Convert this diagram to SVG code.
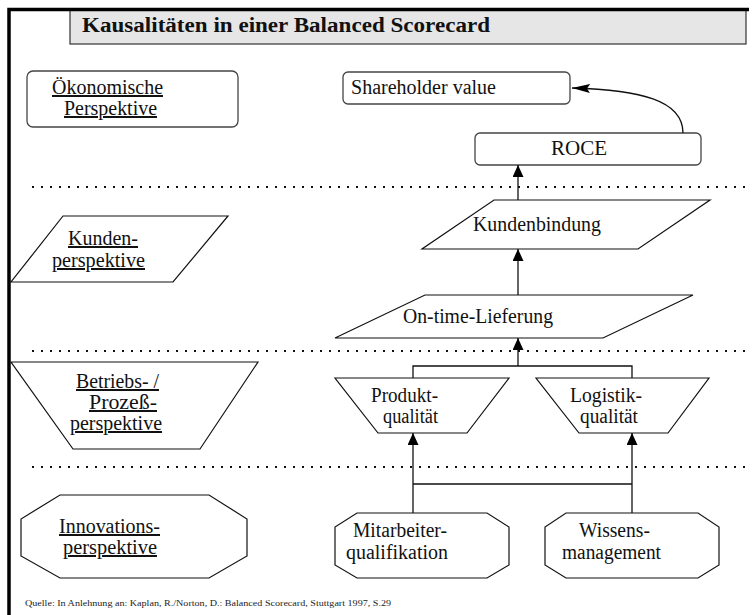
<svg xmlns="http://www.w3.org/2000/svg" width="752" height="615" viewBox="0 0 752 615">
<defs>
<style>
.t{font-family:"Liberation Serif","Times New Roman",serif;font-size:20px;fill:#111}
.u{text-decoration:underline}
.n{fill:#fff;stroke:#111;stroke-width:1.2}
.r{fill:#fff;stroke:#444;stroke-width:1.3}
.c{fill:none;stroke:#111;stroke-width:1.3}
.d{fill:none;stroke:#111;stroke-width:2;stroke-dasharray:2 7}
</style>
<marker id="arr" viewBox="0 0 12 11" refX="12" refY="5.5" markerWidth="12" markerHeight="11" markerUnits="userSpaceOnUse" orient="auto">
<path d="M0,0 L12,5.5 L0,11 z" fill="#000"/>
</marker>
<marker id="arr2" viewBox="0 0 18 9" refX="18" refY="4.5" markerWidth="18" markerHeight="9" markerUnits="userSpaceOnUse" orient="auto">
<path d="M0,0 L18,4.5 L0,9 L3,4.5 z" fill="#000"/>
</marker>
</defs>
<rect x="0" y="0" width="752" height="615" fill="#fff"/>
<g id="frame">
<rect x="70" y="10" width="676" height="34" fill="#e6e6e6" stroke="#333" stroke-width="1.2"/>
<path d="M9,615 V9.5 H749" fill="none" stroke="#000" stroke-width="3.5"/>
<text x="82" y="32" font-family="'Liberation Serif','Times New Roman',serif" font-size="20" font-weight="bold" fill="#111" textLength="408" lengthAdjust="spacingAndGlyphs">Kausalitäten in einer Balanced Scorecard</text>
</g>
<g id="separators">
<line class="d" x1="32" y1="187" x2="752" y2="187"/>
<line class="d" x1="32" y1="351" x2="752" y2="351"/>
<line class="d" x1="32" y1="467" x2="752" y2="467"/>
</g>
<g id="oekonomische-perspektive">
<rect class="r" x="27" y="71" width="211" height="56" rx="6"/>
<text class="t u" x="52" y="94" textLength="111" lengthAdjust="spacingAndGlyphs">Ökonomische</text>
<text class="t u" x="64" y="115" textLength="93" lengthAdjust="spacingAndGlyphs">Perspektive</text>
</g>
<g id="kundenperspektive">
<polygon class="n" points="63,216 228,216 173,282 11,282"/>
<text class="t u" x="68" y="245" textLength="70" lengthAdjust="spacingAndGlyphs">Kunden-</text>
<text class="t u" x="52" y="267" textLength="93" lengthAdjust="spacingAndGlyphs">perspektive</text>
</g>
<g id="prozessperspektive">
<polygon class="n" points="11,362 258,362 200,449 73,449"/>
<text class="t u" x="76" y="388" textLength="83" lengthAdjust="spacingAndGlyphs">Betriebs- /</text>
<text class="t u" x="89" y="409" textLength="68" lengthAdjust="spacingAndGlyphs"> Prozeß-</text>
<text class="t u" x="70" y="430" textLength="92" lengthAdjust="spacingAndGlyphs">perspektive</text>
</g>
<g id="innovationsperspektive">
<polygon class="n" points="60,495 209,495 247,519 247,556 209,578 60,578 21,556 21,519"/>
<text class="t u" x="59" y="533" textLength="101" lengthAdjust="spacingAndGlyphs">Innovations-</text>
<text class="t u" x="63" y="554" textLength="94" lengthAdjust="spacingAndGlyphs">perspektive</text>
</g>
<g id="shareholder-value">
<rect class="r" x="343" y="72" width="227" height="32" rx="5"/>
<text class="t" x="351" y="94" textLength="145" lengthAdjust="spacingAndGlyphs">Shareholder value</text>
</g>
<g id="roce">
<rect class="r" x="475" y="133" width="226" height="32" rx="5"/>
<text class="t" x="551" y="155" textLength="56" lengthAdjust="spacingAndGlyphs">ROCE</text>
</g>
<g id="kundenbindung">
<polygon class="n" points="494,200 710,200 638,249 422,249"/>
<text class="t" x="473" y="231" textLength="128" lengthAdjust="spacingAndGlyphs">Kundenbindung</text>
</g>
<g id="on-time-lieferung">
<polygon class="n" points="425,295 693,295 603,338 335,338"/>
<text class="t" x="403" y="323" textLength="150" lengthAdjust="spacingAndGlyphs">On-time-Lieferung</text>
</g>
<g id="produktqualitaet">
<polygon class="n" points="335,378 509,378 467,433 378,433"/>
<text class="t" x="371" y="402" textLength="67" lengthAdjust="spacingAndGlyphs">Produkt-</text>
<text class="t" x="383" y="423" textLength="55" lengthAdjust="spacingAndGlyphs">qualität</text>
</g>
<g id="logistikqualitaet">
<polygon class="n" points="536,378 709,378 668,433 579,433"/>
<text class="t" x="570" y="402" textLength="72" lengthAdjust="spacingAndGlyphs">Logistik-</text>
<text class="t" x="580" y="423" textLength="58" lengthAdjust="spacingAndGlyphs">qualität</text>
</g>
<g id="mitarbeiterqualifikation">
<polygon class="n" points="357,513 487,513 509,527 509,565 487,578 357,578 335,565 335,527"/>
<text class="t" x="353" y="537" textLength="94" lengthAdjust="spacingAndGlyphs">Mitarbeiter-</text>
<text class="t" x="346" y="559" textLength="102" lengthAdjust="spacingAndGlyphs">qualifikation</text>
</g>
<g id="wissensmanagement">
<polygon class="n" points="566,513 698,513 719,527 719,565 698,578 566,578 545,565 545,527"/>
<text class="t" x="579" y="537" textLength="71" lengthAdjust="spacingAndGlyphs">Wissens-</text>
<text class="t" x="562" y="559" textLength="99" lengthAdjust="spacingAndGlyphs">management</text>
</g>
<g id="connectors">
<path class="c" d="M683,133 C683,100 640,90 572,88" marker-end="url(#arr2)"/>
<path class="c" d="M518,200 V165" marker-end="url(#arr)"/>
<path class="c" d="M518,295 V249" marker-end="url(#arr)"/>
<path class="c" d="M518,366 V338" marker-end="url(#arr)"/>
<path class="c" d="M413,378 V366 H632 V378"/>
<path class="c" d="M413,513 V433" marker-end="url(#arr)"/>
<path class="c" d="M632,513 V433" marker-end="url(#arr)"/>
<path class="c" d="M413,484 H632"/>
</g>
<text x="25" y="606" font-family="'Liberation Serif','Times New Roman',serif" font-size="9" fill="#222" textLength="366" lengthAdjust="spacingAndGlyphs">Quelle: In Anlehnung an: Kaplan, R./Norton, D.: Balanced Scorecard, Stuttgart 1997, S.29</text>
</svg>
